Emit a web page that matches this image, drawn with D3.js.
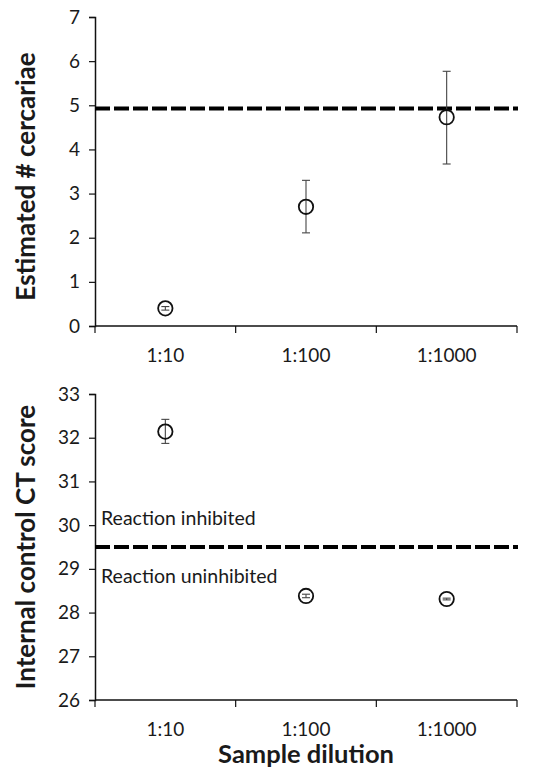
<!DOCTYPE html>
<meta charset="utf-8">
<script src="https://d3js.org/d3.v7.min.js"></script>
<style>
  body { margin: 0; background: #fff; }
  text { font-family: Lato, "Open Sans", sans-serif; fill: #1a1a1a; }
</style>
<svg id="chart" width="542" height="770"></svg>
<script>

  // Categories (sample dilution)
  var dilutions = ["1:10", "1:100", "1:1000"];

  // Top panel: estimated # cercariae (mean, lower, upper)
  var cercMean  = [0.40, 2.70, 4.73];
  var cercLow   = [0.36, 2.11, 3.67];
  var cercHigh  = [0.44, 3.30, 5.77];
  var cercRef   = 4.93;
  var cercTicks = [0, 1, 2, 3, 4, 5, 6, 7];

  // Bottom panel: internal control CT score (mean, lower, upper)
  var ctMean  = [32.14, 28.38, 28.31];
  var ctLow   = [31.87, 28.34, 28.29];
  var ctHigh  = [32.42, 28.42, 28.33];
  var ctRef   = 29.5;
  var ctTicks = [26, 27, 28, 29, 30, 31, 32, 33];

  var svg = d3.select("svg");

  var left = 95, right = 517;

  function panel(opts) {
    var g = svg.append("g");

    var x = d3.scaleBand()
      .domain(opts.cats)
      .range([left, right])
      .padding(0);

    var y = d3.scaleLinear()
      .domain(opts.domain)
      .range([opts.bottom, opts.top]);

    // y axis
    var yAxis = g.append("g")
      .attr("transform", "translate(" + left + ",0)")
      .call(d3.axisLeft(y).tickValues(opts.ticks).tickSize(6).tickPadding(9).tickFormat(d3.format("d")));
    yAxis.select(".domain").attr("stroke", "#111").attr("stroke-width", 1.5);
    yAxis.selectAll(".tick line").attr("stroke", "#111").attr("stroke-width", 1.2);
    yAxis.selectAll(".tick text")
      .style("font-family", "Lato, sans-serif")
      .style("font-size", "19px")
      .attr("fill", "#1a1a1a");

    // x axis: ticks at band edges, labels at band centres
    var xAxisG = g.append("g")
      .attr("transform", "translate(0," + opts.bottom + ")");
    xAxisG.append("line")
      .attr("x1", left).attr("x2", right)
      .attr("stroke", "#111").attr("stroke-width", 1.5);
    var edges = opts.cats.map(function(c) { return x(c); }).concat([x(opts.cats[opts.cats.length - 1]) + x.bandwidth()]);
    xAxisG.selectAll(".edge")
      .data(edges)
      .enter().append("line")
        .attr("x1", function(d) { return d; })
        .attr("x2", function(d) { return d; })
        .attr("y1", 0).attr("y2", 7)
        .attr("stroke", "#111").attr("stroke-width", 1.2);
    xAxisG.selectAll(".lab")
      .data(opts.cats)
      .enter().append("text")
        .attr("x", function(d) { return x(d) + x.bandwidth() / 2; })
        .attr("y", 36)
        .attr("text-anchor", "middle")
        .style("font-size", "19px")
        .text(function(d) { return d; });

    // reference dashed line
    g.append("line")
      .attr("x1", left).attr("x2", right + 1)
      .attr("y1", y(opts.ref)).attr("y2", y(opts.ref))
      .attr("stroke", "#000")
      .attr("stroke-width", 4)
      .attr("stroke-dasharray", "15,4");

    // error bars
    var pts = opts.cats.map(function(c, i) {
      return { cat: c, mean: opts.mean[i], lo: opts.low[i], hi: opts.high[i] };
    });
    var eb = g.append("g").attr("stroke", "#444").attr("stroke-width", 1.1);
    eb.selectAll(".v")
      .data(pts)
      .enter().append("line")
        .attr("x1", function(d) { return x(d.cat) + x.bandwidth() / 2; })
        .attr("x2", function(d) { return x(d.cat) + x.bandwidth() / 2; })
        .attr("y1", function(d) { return y(d.lo); })
        .attr("y2", function(d) { return y(d.hi); });
    ["lo", "hi"].forEach(function(k) {
      eb.selectAll(".cap-" + k)
        .data(pts)
        .enter().append("line")
          .attr("x1", function(d) { return x(d.cat) + x.bandwidth() / 2 - 4; })
          .attr("x2", function(d) { return x(d.cat) + x.bandwidth() / 2 + 4; })
          .attr("y1", function(d) { return y(d[k]); })
          .attr("y2", function(d) { return y(d[k]); });
    });

    // points
    g.selectAll("circle")
      .data(pts)
      .enter().append("circle")
        .attr("cx", function(d) { return x(d.cat) + x.bandwidth() / 2; })
        .attr("cy", function(d) { return y(d.mean); })
        .attr("r", 7.2)
        .attr("fill", "none")
        .attr("stroke", "#111")
        .attr("stroke-width", 1.8);

    // y title
    g.append("text")
      .attr("transform", "translate(" + opts.titleX + "," + ((opts.top + opts.bottom) / 2 + opts.titleShift) + ") rotate(-90)")
      .attr("text-anchor", "middle")
      .style("font-size", "26px")
      .style("font-weight", "bold")
      .text(opts.title);

    return { x: x, y: y, g: g };
  }

  var top = panel({
    cats: dilutions, domain: [0, 7], ticks: cercTicks,
    top: 17, bottom: 326,
    mean: cercMean, low: cercLow, high: cercHigh, ref: cercRef,
    title: "Estimated # cercariae", titleX: 35, titleShift: 5
  });

  var bot = panel({
    cats: dilutions, domain: [26, 33], ticks: ctTicks,
    top: 394, bottom: 700,
    mean: ctMean, low: ctLow, high: ctHigh, ref: ctRef,
    title: "Internal control CT score", titleX: 35, titleShift: 0
  });

  // region annotations
  bot.g.append("text")
    .attr("x", left + 6)
    .attr("y", bot.y(ctRef) - 22)
    .style("font-size", "19.5px")
    .text("Reaction inhibited");
  bot.g.append("text")
    .attr("x", left + 6)
    .attr("y", bot.y(ctRef) + 36)
    .style("font-size", "19.5px")
    .text("Reaction uninhibited");

  // x title
  svg.append("text")
    .attr("x", (left + right) / 2)
    .attr("y", 763)
    .attr("text-anchor", "middle")
    .style("font-size", "25.5px")
    .style("font-weight", "bold")
    .text("Sample dilution");

</script>
